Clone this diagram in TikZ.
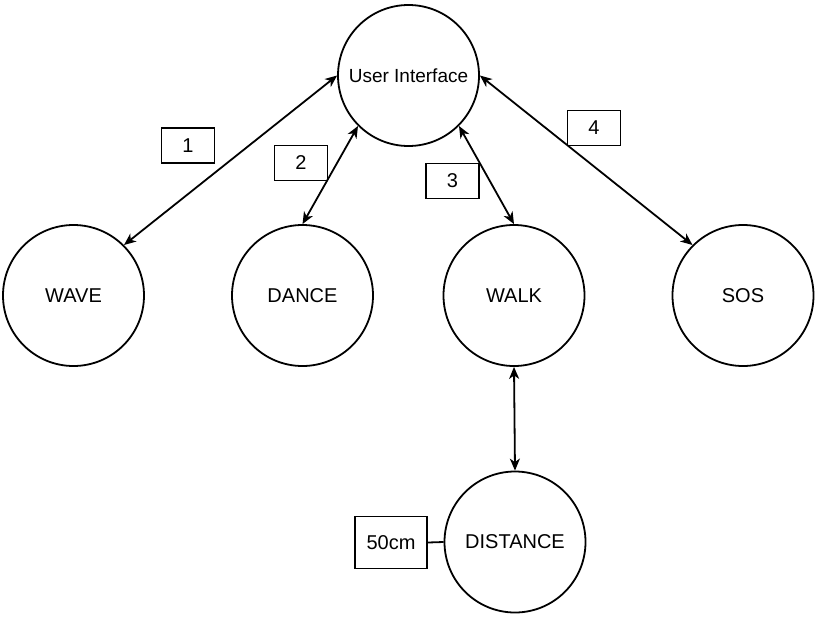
\documentclass[tikz,border=0pt]{standalone}
\usepackage{fontspec}
\setmainfont{Liberation Sans}
\usetikzlibrary{arrows.meta}
\begin{document}
\begin{tikzpicture}[x=1pt,y=-1pt,
  circ/.style={circle,draw,line width=1.8pt,minimum size=141pt,inner sep=0pt,font=\fontsize{20}{24}\selectfont},
  lbl/.style={rectangle,draw,line width=1.8pt,inner sep=0pt,font=\fontsize{20}{24}\selectfont},
  conn/.style={line width=1.8pt,{Stealth[length=12pt,width=10pt,inset=3.5pt]}-{Stealth[length=12pt,width=10pt,inset=3.5pt]}}]
\useasboundingbox (0,0) rectangle (822,624);
\node[circ,font=\fontsize{19}{22}\selectfont] (ui) at (408.5,75.5) {User Interface};
\node[circ] (wave) at (73.5,295.5) {WAVE};
\node[circ] (dance) at (302.5,295.5) {DANCE};
\node[circ] (walk) at (514,295.5) {WALK};
\node[circ] (sos) at (743,295.5) {SOS};
\node[circ] (dist) at (515,542) {DISTANCE};
\node[lbl,minimum width=53pt,minimum height=35pt] (n1) at (188,145.5) {1};
\node[lbl,minimum width=53pt,minimum height=35pt] (n2) at (301,163) {2};
\node[lbl,minimum width=53pt,minimum height=35pt] (n3) at (452.5,181) {3};
\node[lbl,minimum width=53pt,minimum height=35pt] (n4) at (594,128) {4};
\node[lbl,minimum width=72pt,minimum height=52pt] (cm) at (391,542.5) {50cm};
\draw[conn] (ui.180) -- (wave.45);
\draw[conn] (ui.225) -- (dance.90);
\draw[conn] (ui.-45) -- (walk.90);
\draw[conn] (ui.0) -- (sos.135);
\draw[conn] (walk.south) -- (dist.north);
\draw[line width=1.8pt] (cm.east) -- (dist.west);
\end{tikzpicture}
\end{document}
